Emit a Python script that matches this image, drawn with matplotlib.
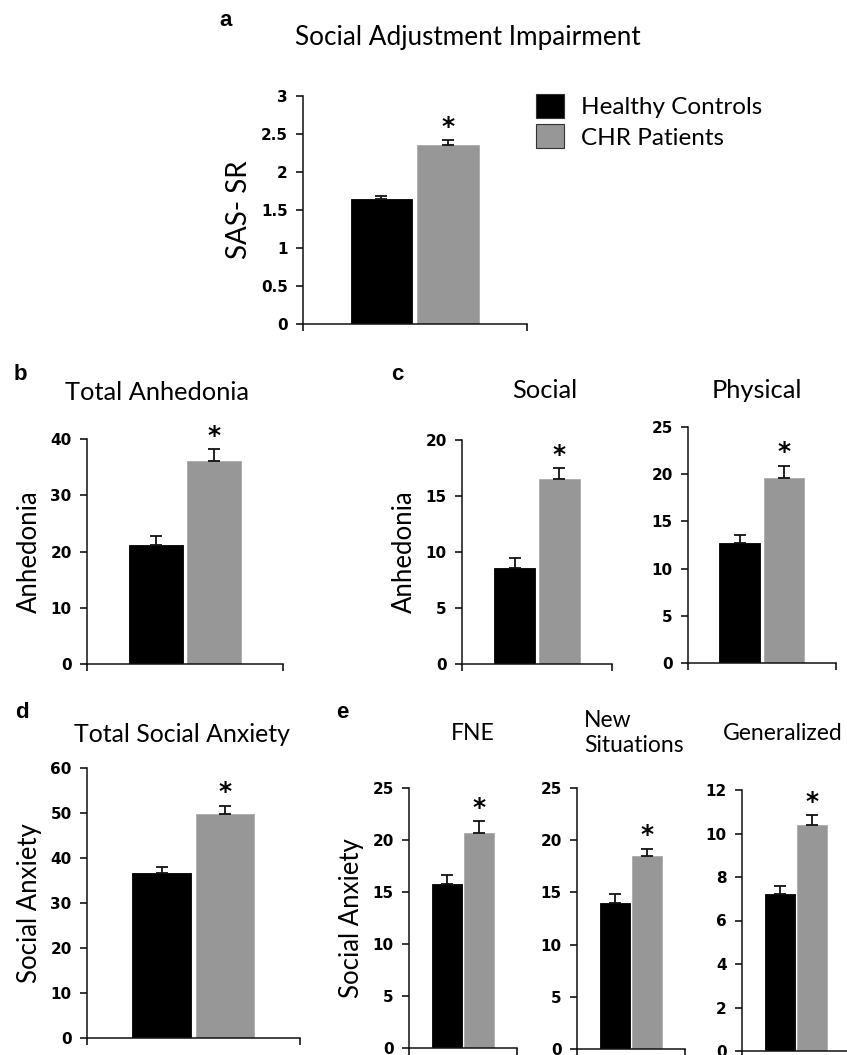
import matplotlib
matplotlib.use("Agg")
import matplotlib.pyplot as plt
from matplotlib.patches import Patch

FIG_W, FIG_H = 847, 1055

groups = ["Healthy Controls", "CHR Patients"]
BAR_COLORS = ["#000000", "#979797"]

# group means and upper error (SEM)
sas_mean = [1.64, 2.36]
sas_err = [0.05, 0.06]

anh_total_mean = [21.2, 36.1]
anh_total_err = [1.6, 2.1]
anh_social_mean = [8.6, 16.5]
anh_social_err = [0.9, 1.0]
anh_physical_mean = [12.7, 19.6]
anh_physical_err = [0.9, 1.3]

anx_total_mean = [36.7, 49.8]
anx_total_err = [1.3, 1.8]
anx_fne_mean = [15.8, 20.7]
anx_fne_err = [0.8, 1.1]
anx_new_mean = [14.0, 18.5]
anx_new_err = [0.8, 0.7]
anx_gen_mean = [7.2, 10.4]
anx_gen_err = [0.4, 0.45]

TITLE_FONT = "Lato"
YLABEL_SIZE = 18.5


def add_axes_px(fig, left, right, top, bottom):
    return fig.add_axes([left / FIG_W, 1 - bottom / FIG_H,
                         (right - left) / FIG_W, (bottom - top) / FIG_H])


def bar_panel(ax, means, errs, ymax, step):
    xs = [0.35, 0.648]
    for x, m, e, c in zip(xs, means, errs, BAR_COLORS):
        edge = "#000000" if c == "#000000" else "#aaaaaa"
        ax.bar(x, m, width=0.275, color=c, edgecolor=edge, linewidth=0.6, zorder=2)
        ax.errorbar(x, m, yerr=[[0], [e]], fmt="none", ecolor="#111111",
                    elinewidth=1.3, capsize=4, capthick=1.3, zorder=3)
    # significance star above the patient bar
    ax.annotate("*", (xs[1], means[1] + errs[1]), textcoords="offset points",
                xytext=(0, 1), ha="center", va="bottom", fontsize=18,
                fontweight="bold", family="DejaVu Sans")
    ax.set_xlim(0, 1)
    ax.set_ylim(0, ymax)
    ticks = [i * step for i in range(int(round(ymax / step)) + 1)]
    ax.set_yticks(ticks)
    ax.set_yticklabels([f"{t:g}" for t in ticks], fontsize=11, fontweight="bold")
    ax.set_xticks([0, 1])
    ax.set_xticklabels([])
    ax.tick_params(axis="y", direction="out", length=5, width=1.1, pad=6)
    ax.tick_params(axis="x", direction="out", length=5, width=1.1)
    for s in ["top", "right"]:
        ax.spines[s].set_visible(False)
    for s in ["left", "bottom"]:
        ax.spines[s].set_linewidth(1.1)
        ax.spines[s].set_color("#111111")
    ax.set_facecolor("none")


def title(x, y, s, size, **kw):
    fig.text(x / FIG_W, 1 - y / FIG_H, s, va="center", fontsize=size,
             family=TITLE_FONT, **kw)


def letter(x, y, s):
    fig.text(x / FIG_W, 1 - y / FIG_H, s, ha="center", va="center",
             fontsize=16, fontweight="bold", family="Liberation Sans")


fig = plt.figure(figsize=(FIG_W / 100, FIG_H / 100), dpi=100)

# panel a
ax_a = add_axes_px(fig, 303, 527, 96, 324)
bar_panel(ax_a, sas_mean, sas_err, 3, 0.5)
ax_a.set_ylabel("SAS- SR", fontsize=20, family=TITLE_FONT, labelpad=6)
title(468, 38, "Social Adjustment Impairment", 18.8, ha="center")
letter(226, 20, "a")

handles = [Patch(facecolor=c, edgecolor="#333333", linewidth=0.8) for c in BAR_COLORS]
fig.legend(handles, groups, loc="upper left",
           bbox_to_anchor=(536 / FIG_W, 1 - 94 / FIG_H), frameon=False,
           prop={"family": TITLE_FONT, "size": 17.5}, handlelength=1.15,
           handleheight=1.15, handletextpad=0.7, labelspacing=0.25,
           borderaxespad=0, borderpad=0)

# panel b
ax_b = add_axes_px(fig, 87, 283, 439, 664)
bar_panel(ax_b, anh_total_mean, anh_total_err, 40, 10)
ax_b.set_ylabel("Anhedonia", fontsize=YLABEL_SIZE, family=TITLE_FONT, labelpad=6)
title(157, 392, "Total Anhedonia", 18.3, ha="center")
letter(20, 375, "b")

# panel c
ax_c1 = add_axes_px(fig, 462, 612, 440, 664)
bar_panel(ax_c1, anh_social_mean, anh_social_err, 20, 5)
ax_c1.set_ylabel("Anhedonia", fontsize=YLABEL_SIZE, family=TITLE_FONT, labelpad=6)
title(545, 390, "Social", 18.3, ha="center")
ax_c2 = add_axes_px(fig, 688, 836, 427, 663)
bar_panel(ax_c2, anh_physical_mean, anh_physical_err, 25, 5)
title(757, 390, "Physical", 18.3, ha="center")
letter(397, 375, "c")

# panel d
ax_d = add_axes_px(fig, 87, 300, 768, 1038)
bar_panel(ax_d, anx_total_mean, anx_total_err, 60, 10)
ax_d.set_ylabel("Social Anxiety", fontsize=YLABEL_SIZE, family=TITLE_FONT, labelpad=6)
title(182, 735, "Total Social Anxiety", 17.9, ha="center")
letter(22, 713, "d")

# panel e
ax_e1 = add_axes_px(fig, 409, 517, 788, 1048)
bar_panel(ax_e1, anx_fne_mean, anx_fne_err, 25, 5)
ax_e1.set_ylabel("Social Anxiety", fontsize=YLABEL_SIZE, family=TITLE_FONT, labelpad=6)
title(473, 733, "FNE", 16.5, ha="center")
ax_e2 = add_axes_px(fig, 577, 685, 788, 1049)
bar_panel(ax_e2, anx_new_mean, anx_new_err, 25, 5)
title(584, 733, "New\nSituations", 16.5, ha="left", linespacing=1.25)
ax_e3 = add_axes_px(fig, 742, 850, 790, 1051)
bar_panel(ax_e3, anx_gen_mean, anx_gen_err, 12, 2)
title(783, 733, "Generalized", 16.5, ha="center")
letter(342, 713, "e")

fig.savefig("out.png", dpi=100, facecolor="white")
